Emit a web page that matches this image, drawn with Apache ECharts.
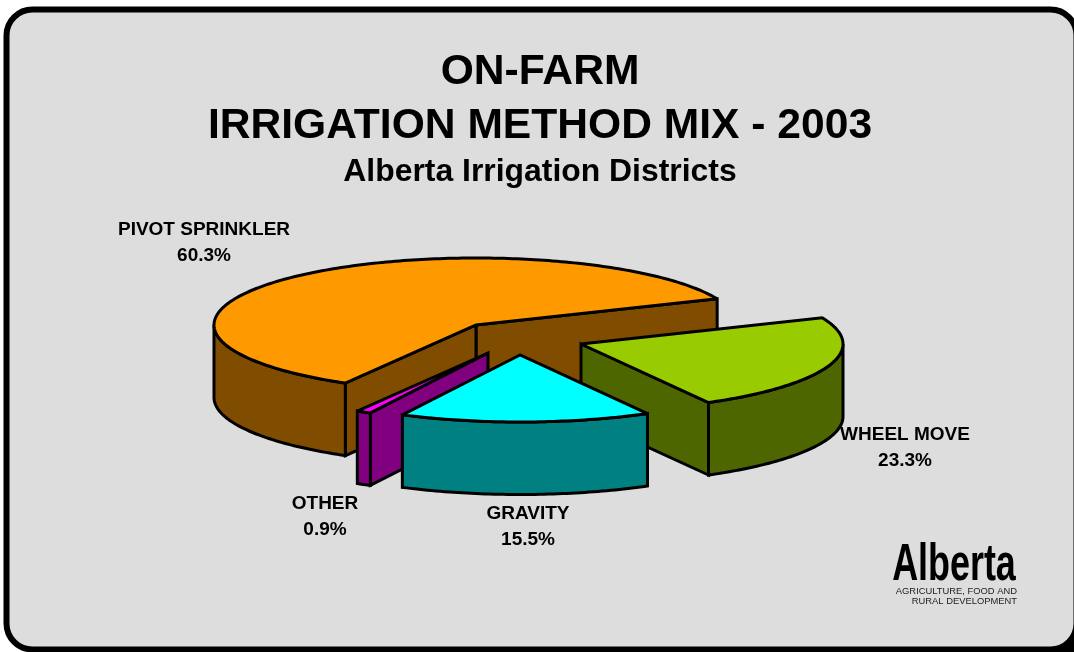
<!DOCTYPE html>
<html>
<head>
<meta charset="utf-8">
<style>
html, body { margin: 0; padding: 0; background: #fff; }
#chart { width: 1074px; height: 652px; }
</style>
<script src="https://cdn.jsdelivr.net/npm/echarts@6/dist/echarts.min.js"></script>
</head>
<body>
<div id="chart"></div>
<script>
// chart data
var sliceNames = ["PIVOT SPRINKLER", "OTHER", "GRAVITY", "WHEEL MOVE"];
var sliceValues = [60.3, 0.9, 15.5, 23.3];
var titleLines = ["ON-FARM", "IRRIGATION METHOD MIX - 2003"];
var subTitle = "Alberta Irrigation Districts";

// look of each slice
var topColors = ["#ff9900", "#ff00ff", "#00ffff", "#99cc00"];
var sideColors = ["#804c00", "#800080", "#008080", "#4d6600"];
// apex of each slice after the explode, in page pixels
var sliceCenters = [[476, 325], [488, 353], [520, 355], [581, 344]];
var labelSpots = [[204, 217], [325, 491], [528, 501], [905, 422]];
var drawOrder = [0, 1, 3, 2];

var START_ANGLE = 23;
var RX = 262, RY = 67, DEPTH = 72.5;
var FONT = "'Liberation Sans', Arial, sans-serif";

// angle range of every slice, running counter clockwise
var total = sliceValues.reduce(function (a, b) { return a + b; }, 0);
var ranges = [];
var run = START_ANGLE;
for (var i = 0; i < sliceValues.length; i++) {
    var sweep = sliceValues[i] / total * 360;
    ranges.push([run, run + sweep]);
    run += sweep;
}

function onRim(c, deg, rx, ry, drop) {
    var rad = deg * Math.PI / 180;
    return [c[0] + rx * Math.cos(rad), c[1] - ry * Math.sin(rad) + drop];
}

function arcPoints(c, from, to, rx, ry, drop) {
    var pts = [];
    for (var d = from; d < to; d += 1) {
        pts.push(onRim(c, d, rx, ry, drop));
    }
    pts.push(onRim(c, to, rx, ry, drop));
    return pts;
}

function face(points, color) {
    return {
        type: "polygon",
        shape: { points: points },
        style: { fill: color, stroke: "#000", lineWidth: 3, lineJoin: "miter", miterLimit: 2.5 }
    };
}

function renderSlice(params, api) {
    var idx = api.value(0);
    var c = api.coord([api.value(1), api.value(2)]);
    var size = api.size([RX, RY]);
    var rx = size[0], ry = size[1], dep = api.size([0, DEPTH])[1];
    var a = ranges[idx][0], b = ranges[idx][1];
    var side = sideColors[idx];
    var kids = [];

    // straight cut walls, only when they face the viewer
    if (Math.cos(a * Math.PI / 180) > 0) {
        var p1 = onRim(c, a, rx, ry, 0);
        kids.push(face([c, p1, [p1[0], p1[1] + dep], [c[0], c[1] + dep]], side));
    }
    if (Math.cos(b * Math.PI / 180) < 0) {
        var p2 = onRim(c, b, rx, ry, 0);
        kids.push(face([c, p2, [p2[0], p2[1] + dep], [c[0], c[1] + dep]], side));
    }

    // curved wall, front half of the ellipse only
    var from = Math.max(a, 180), to = Math.min(b, 360);
    if (to > from) {
        var upper = arcPoints(c, from, to, rx, ry, 0);
        var lower = arcPoints(c, from, to, rx, ry, dep).reverse();
        kids.push(face(upper.concat(lower), side));
    }

    // top
    kids.push(face([c].concat(arcPoints(c, a, b, rx, ry, 0)), topColors[idx]));
    return { type: "group", children: kids };
}

var sliceData = drawOrder.map(function (i) {
    return [i, sliceCenters[i][0], sliceCenters[i][1]];
});

function pageText(x, y, text, font, align, color) {
    return {
        type: "text", x: x, y: y, silent: true,
        style: {
            text: text, font: font, fill: color || "#000",
            align: align || "center", verticalAlign: "middle"
        }
    };
}

var labelGraphics = sliceNames.map(function (name, i) {
    return {
        type: "text", x: labelSpots[i][0], y: labelSpots[i][1], silent: true,
        style: {
            text: name + "\n" + sliceValues[i].toFixed(1) + "%",
            font: "bold 19px " + FONT,
            fill: "#000",
            align: "center",
            verticalAlign: "top",
            lineHeight: 26
        }
    };
});

var logoWord = pageText(954, 566, "Alberta", "bold 52px " + FONT);
logoWord.scaleX = 0.69;

var option = {
    animation: false,
    grid: { left: 0, right: 0, top: 0, bottom: 0 },
    xAxis: { type: "value", min: 0, max: 1074, show: false },
    yAxis: { type: "value", min: 0, max: 652, inverse: true, show: false },
    graphic: [
        // the frame has a hard black corner at lower right
        {
            type: "rect", z: -11, silent: true,
            shape: { x: 1040, y: 620, width: 34, height: 32 },
            style: { fill: "#000" }
        },
        {
            type: "rect", z: -10, silent: true,
            shape: { x: 6.5, y: 9.5, width: 1070, height: 640, r: 26 },
            style: { fill: "#dddddd", stroke: "#000", lineWidth: 6 }
        },
        pageText(540, 72, titleLines[0], "bold 42.6px " + FONT),
        pageText(540, 126, titleLines[1], "bold 42.6px " + FONT),
        pageText(540, 172, subTitle, "bold 31.9px " + FONT),
        logoWord,
        pageText(1017, 591, "AGRICULTURE, FOOD AND", "9.4px " + FONT, "right", "#222"),
        pageText(1017, 601, "RURAL DEVELOPMENT", "9.4px " + FONT, "right", "#222")
    ].concat(labelGraphics),
    series: [{
        type: "custom",
        coordinateSystem: "cartesian2d",
        renderItem: renderSlice,
        data: sliceData,
        clip: false,
        silent: true
    }]
};

var myChart = echarts.init(document.getElementById("chart"));
myChart.setOption(option);
</script>
</body>
</html>
